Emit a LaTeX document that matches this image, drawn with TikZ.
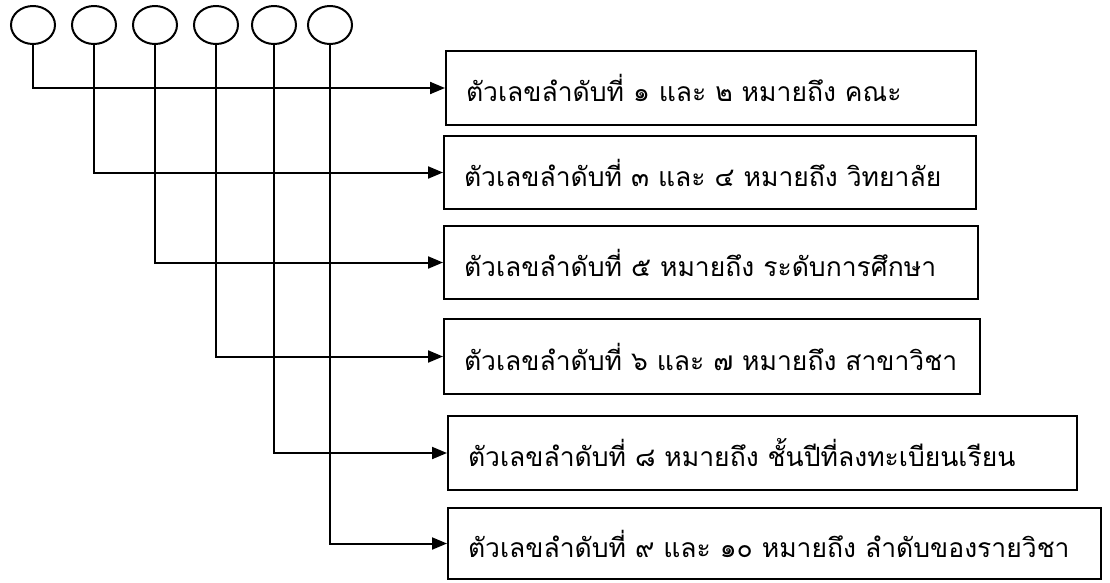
\documentclass[tikz,border=0pt]{standalone}
\usepackage{fontspec}
\newfontfamily\thaifont[Script=Thai]{Loma}
\usetikzlibrary{arrows.meta,shapes.geometric}
\begin{document}
\begin{tikzpicture}[x=1pt,y=-1pt,
  line width=2pt,
  circ/.style={draw,ellipse,minimum width=44pt,minimum height=38pt,inner sep=0pt},
  tbox/.style={draw,rectangle,anchor=north west,inner sep=0pt,font=\thaifont\fontsize{26.5}{30}\selectfont},
  arr/.style={-{Triangle[length=15pt,width=12pt]}}]
\useasboundingbox (0,0) rectangle (1110,582);
\foreach \i/\x in {1/33,2/94,3/155,4/216,5/274,6/330}
  \node[circ] (c\i) at (\x,25) {};
\node[tbox,minimum width=530pt,minimum height=74pt] (b1) at (445,50)
  {\makebox[530pt][l]{\hspace{20pt}ตัวเลขลำดับที่ ๑ และ ๒ หมายถึง คณะ}};
\node[tbox,minimum width=532pt,minimum height=73pt] (b2) at (443,135)
  {\makebox[532pt][l]{\hspace{20pt}ตัวเลขลำดับที่ ๓ และ ๔ หมายถึง วิทยาลัย}};
\node[tbox,minimum width=534pt,minimum height=73pt] (b3) at (443,225)
  {\makebox[534pt][l]{\hspace{20pt}ตัวเลขลำดับที่ ๕ หมายถึง ระดับการศึกษา}};
\node[tbox,minimum width=536pt,minimum height=75pt] (b4) at (443,318)
  {\makebox[536pt][l]{\hspace{20pt}ตัวเลขลำดับที่ ๖ และ ๗ หมายถึง สาขาวิชา}};
\node[tbox,minimum width=629pt,minimum height=74pt] (b5) at (447,415)
  {\makebox[629pt][l]{\hspace{20pt}ตัวเลขลำดับที่ ๘ หมายถึง ชั้นปีที่ลงทะเบียนเรียน}};
\node[tbox,minimum width=653pt,minimum height=71pt] (b6) at (447,507)
  {\makebox[653pt][l]{\hspace{20pt}ตัวเลขลำดับที่ ๙ และ ๑๐ หมายถึง ลำดับของรายวิชา}};
\foreach \i in {1,...,6}
  \draw[arr] (c\i.south) |- (b\i.west);
\end{tikzpicture}
\end{document}
